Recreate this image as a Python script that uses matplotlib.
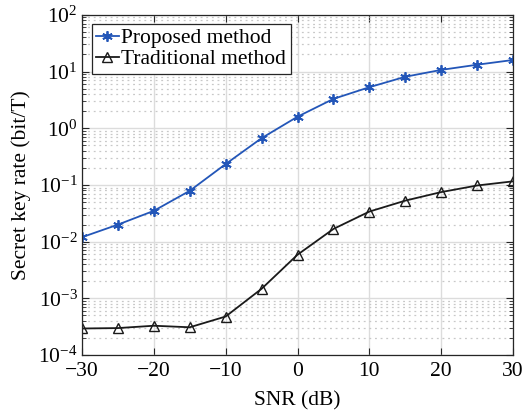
import matplotlib
matplotlib.use('Agg')
import matplotlib.pyplot as plt
from matplotlib.ticker import LogLocator, FixedLocator

plt.rcParams['font.family'] = ['Liberation Serif', 'DejaVu Serif']
plt.rcParams['mathtext.fontset'] = 'stix'

snr = [-30, -25, -20, -15, -10, -5, 0, 5, 10, 15, 20, 25, 30]
proposed = [0.012, 0.020, 0.035, 0.079, 0.234, 0.67, 1.6, 3.3, 5.3, 8.1, 10.7, 13.2, 16.0]
traditional = [2.95e-4, 3.0e-4, 3.3e-4, 3.1e-4, 4.8e-4, 1.48e-3, 5.9e-3,
               0.0168, 0.034, 0.053, 0.075, 0.098, 0.116]

fs = 15.5

fig = plt.figure(figsize=(5.22, 4.12), dpi=100)
ax = fig.add_axes([0.157, 0.138, 0.826, 0.826])

ax.plot(snr, proposed, color='#2356b8', lw=1.3, marker=(6, 2, 0), ms=7.5, mew=1.3,
        mec='#2356b8', mfc='#2356b8', label='Proposed method')
ax.plot(snr, traditional, color='#1a1a1a', lw=1.3, marker='^', ms=6.5,
        mec='#1a1a1a', mfc='none', label='Traditional method')

ax.set_yscale('log')
ax.set_ylim(1e-4, 1e2)
ax.set_xlim(-30, 30)
ax.xaxis.set_major_locator(FixedLocator([-30, -20, -10, 0, 10, 20, 30]))
ax.yaxis.set_major_locator(LogLocator(base=10, numticks=10))
ax.yaxis.set_minor_locator(LogLocator(base=10, subs=range(2, 10), numticks=20))

ax.grid(True, which='major', color='#dcdcdc', lw=1.0, ls='-')
ax.grid(True, which='minor', axis='y', color='#c8c8c8', lw=0.9, ls=(0, (1.5, 3)))
ax.set_axisbelow(True)

ax.tick_params(which='both', direction='in', top=True, right=True,
               colors='#262626', labelcolor='black', labelsize=fs)
ax.tick_params(which='major', length=5)
ax.tick_params(axis='x', which='major', pad=5)
ax.tick_params(axis='y', which='major', pad=3)
ax.tick_params(which='minor', length=3)
for s in ax.spines.values():
    s.set_color('#262626')
    s.set_linewidth(0.9)

ax.set_xlabel('SNR (dB)', fontsize=fs, labelpad=7)
ax.set_ylabel('Secret key rate (bit/T)', fontsize=fs, labelpad=5)

leg = ax.legend(loc='upper left', bbox_to_anchor=(0.023, 0.974), fontsize=fs,
                fancybox=False, framealpha=1, edgecolor='#262626',
                borderpad=0.2, labelspacing=0.05, handlelength=1.05,
                handletextpad=0.12, borderaxespad=0)
leg.get_frame().set_linewidth(0.9)

fig.savefig('out.png', dpi=100)
